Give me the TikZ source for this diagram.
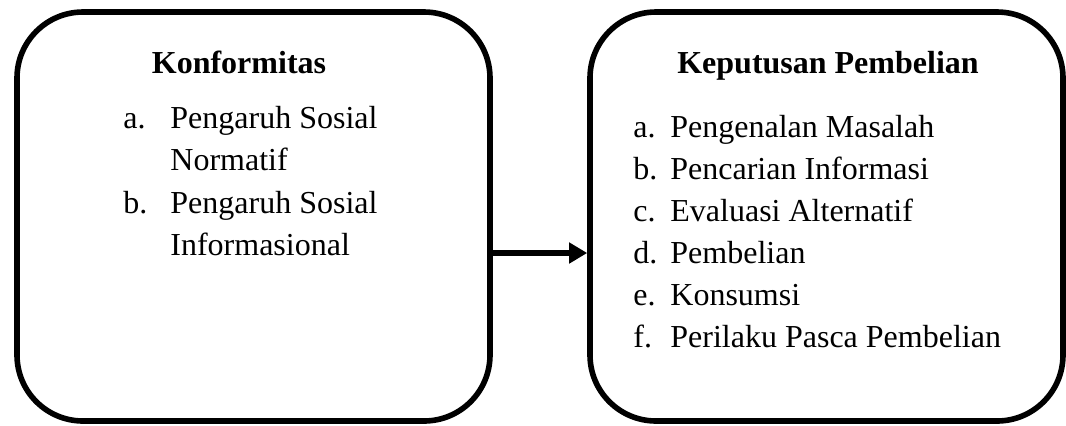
\documentclass[tikz,border=0pt]{standalone}
\usepackage{fontspec}
\setmainfont{Liberation Serif}
\usetikzlibrary{arrows.meta,positioning}

\begin{document}
\begin{tikzpicture}[x=0.5pt, y=-0.5pt, every node/.style={font=\fontsize{16pt}{21pt}\selectfont},
    panel/.style={draw, line width=2.8pt, rounded corners=33pt, minimum width=236.5pt, minimum height=204.5pt, inner sep=0pt},
    head/.style={font=\fontsize{16pt}{21pt}\selectfont\bfseries, anchor=base, inner sep=0pt},
    item/.style={anchor=base west, inner sep=0pt},
    link/.style={line width=3pt, -{Triangle[length=9pt,width=10pt]}}]
            \useasboundingbox (0,0) rectangle (1066,425);
            % the two boxes
            \node[panel] (konf) at (253.5,216.5) {};
            \node[panel] (kep) at (826.5,216.5) {};
            
            % left box
            \node[head] (konfhead) at (239,73) {Konformitas};
            \node[item] (konfa) at (123,128) {a.};
            \node[item] (konfa1) at (170,128) {Pengaruh Sosial};
            \node[item] (konfa2) at (170,170.5) {Normatif};
            \node[item] (konfb) at (123,213) {b.};
            \node[item] (konfb1) at (170,213) {Pengaruh Sosial};
            \node[item] (konfb2) at (170,255.5) {Informasional};
            
            % right box
            \node[head] (kephead) at (828,73) {Keputusan Pembelian};
            \foreach \lbl/\txt [count=\i from 0] in {a./Pengenalan Masalah, b./Pencarian Informasi, c./Evaluasi Alternatif, d./Pembelian, e./Konsumsi, f./Perilaku Pasca Pembelian} {
                \node[item] (keplbl\i) at (633,137+42*\i) {\lbl};
                \node[item] (keptxt\i) at (670,137+42*\i) {\txt};
            }
            
            \coordinate (arrowlvl) at (540,253);
            \draw[link] (konf.east |- arrowlvl) -- (kep.west |- arrowlvl);
        \end{tikzpicture}
\end{document}
